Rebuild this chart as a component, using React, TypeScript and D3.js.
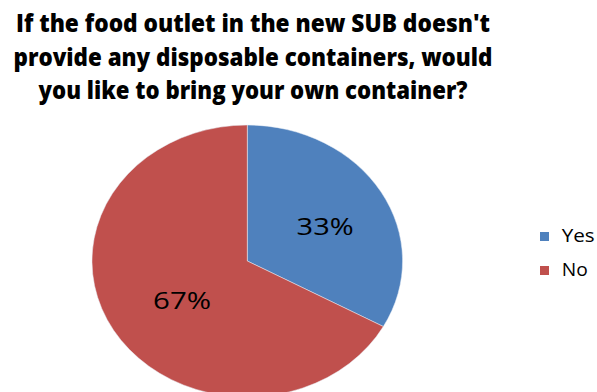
import React from "react";
import * as d3 from "d3";

const categories = ["Yes", "No"];
const values = [33, 67];
const labels = ["33%", "67%"];
const colors = ["#4F81BD", "#C0504D"];
const titleLines = [
  "If the food outlet in the new SUB doesn't",
  "provide any disposable containers, would",
  "you like to bring your own container?",
];

const W = 597;
const H = 392;
const cx = 247.3;
const cy = 261;
const rx = 155.3;
const ry = 136;

const titleBaselines = [32.3, 66.3, 99.3];
const titleLengths = [474, 479, 429];
const labelLengths = [57, 58];
const legendLengths = [33, 26];

export default function App() {
  const pie = d3
    .pie<number>()
    .sort(null)
    .value((d) => d);
  const arcs = pie(values);
  const arc = d3.arc<d3.PieArcDatum<number>>().innerRadius(0).outerRadius(1);
  const labelArc = d3
    .arc<d3.PieArcDatum<number>>()
    .innerRadius(0.535)
    .outerRadius(0.535);

  return (
    <svg
      width={W}
      height={H}
      style={{ position: "absolute", left: 0, top: 0, background: "#fff" }}
    >
      <rect x={0} y={0} width={W} height={H} fill="#fff" />
      {titleLines.map((t, i) => (
        <text
          key={i}
          x={253}
          y={titleBaselines[i]}
          textAnchor="middle"
          fontFamily="'Open Sans', sans-serif"
          fontWeight={800}
          fontSize={25.5}
          textLength={titleLengths[i]}
          lengthAdjust="spacingAndGlyphs"
          fill="#000"
        >
          {t}
        </text>
      ))}
      <g transform={`translate(${cx},${cy}) scale(${rx},${ry})`}>
        {arcs.map((a, i) => (
          <path
            key={i}
            d={arc(a) || ""}
            fill={colors[i]}
            stroke="#e8eef6"
            strokeWidth={0.5}
            vectorEffect="non-scaling-stroke"
          />
        ))}
      </g>
      {arcs.map((a, i) => {
        const [lx, ly] = labelArc.centroid(a);
        return (
          <text
            key={i}
            x={cx + lx * rx + 6.3}
            y={cy + ly * ry + 10.6}
            textAnchor="middle"
            fontFamily="'Open Sans', sans-serif"
            fontSize={23.5}
            textLength={labelLengths[i]}
            lengthAdjust="spacingAndGlyphs"
            fill="#000"
          >
            {labels[i]}
          </text>
        );
      })}
      {categories.map((c, i) => (
        <g key={c} transform={`translate(540,${232 + i * 34})`}>
          <rect x={0} y={0} width={9} height={9} fill={colors[i]} />
          <text
            x={21.7}
            y={9.7}
            fontFamily="'Open Sans', sans-serif"
            fontSize={18.5}
            textLength={legendLengths[i]}
            lengthAdjust="spacingAndGlyphs"
            fill="#000"
          >
            {c}
          </text>
        </g>
      ))}
    </svg>
  );
}
